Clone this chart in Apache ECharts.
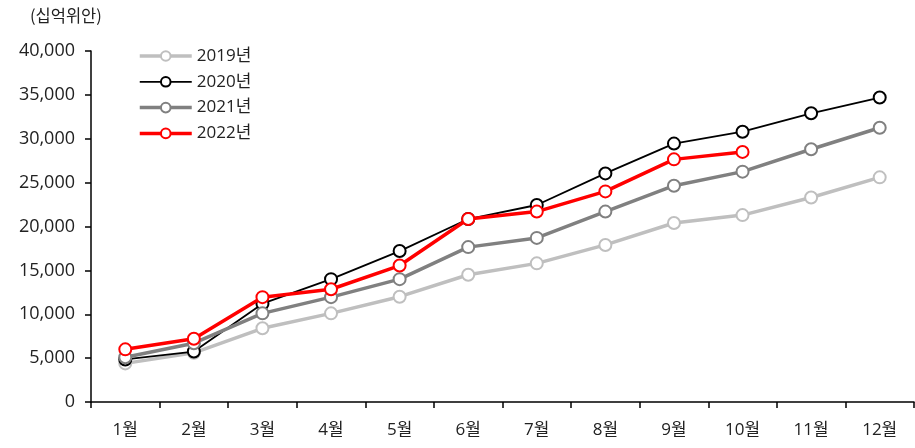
<!DOCTYPE html>
<html>
<head>
<meta charset="utf-8">
<script src="https://cdn.jsdelivr.net/npm/echarts@6/dist/echarts.min.js"></script>
<style>
  html, body { margin: 0; padding: 0; background: #fff; }
  #chart { width: 915px; height: 448px; }
</style>
</head>
<body>
<div id="chart"></div>
<script>
// Monthly cumulative values (십억위안)
const months = ['1월', '2월', '3월', '4월', '5월', '6월', '7월', '8월', '9월', '10월', '11월', '12월'];
const y2019 = [4400, 5600, 8400, 10100, 12000, 14500, 15800, 17900, 20400, 21300, 23300, 25600];
const y2020 = [4850, 5750, 11200, 14000, 17200, 20850, 22450, 26050, 29450, 30800, 32900, 34700];
const y2021 = [5100, 6700, 10100, 11950, 14000, 17650, 18700, 21700, 24650, 26250, 28800, 31250];
const y2022 = [6000, 7200, 11950, 12850, 15550, 20850, 21700, 24000, 27650, 28500];
const seriesNames = ['2019년', '2020년', '2021년', '2022년'];
const yTicks = { min: 0, max: 40000, interval: 5000 };

const FONT = '"Open Sans", "Noto Sans CJK KR", sans-serif';
const CJK = '"Noto Sans CJK KR", sans-serif';

const colors = ['#bfbfbf', '#000000', '#808080', '#ff0000'];
const widths = [3.5, 1.8, 3.5, 3.5];

function lineSeries(i, data) {
  return {
    name: seriesNames[i],
    type: 'line',
    data: data,
    z: 2 + i,
    symbol: 'circle',
    symbolSize: 12,
    lineStyle: { color: colors[i], width: widths[i] },
    itemStyle: { color: '#fff', borderColor: colors[i], borderWidth: 2 },
    emphasis: { disabled: true },
    animation: false
  };
}

const chart = echarts.init(document.getElementById('chart'), null, { renderer: 'canvas' });
chart.setOption({
  animation: false,
  textStyle: { fontFamily: FONT },
  grid: { left: 91, right: 1, top: 51, bottom: 46, containLabel: false },
  graphic: [{
    type: 'text',
    left: 30,
    top: 7,
    style: { text: '(십억위안)', font: '16.5px ' + CJK, fill: '#222' }
  }],
  legend: {
    orient: 'vertical',
    left: 138,
    top: 47.5,
    padding: 0,
    itemWidth: 52,
    itemHeight: 12,
    itemGap: 8.8,
    textStyle: { fontSize: 17, color: '#222', fontFamily: FONT },
    data: seriesNames.map((n, i) => ({
      name: n,
      lineStyle: { color: colors[i], width: widths[i] }
    }))
  },
  xAxis: {
    type: 'category',
    data: months,
    boundaryGap: true,
    axisLine: { lineStyle: { color: '#000', width: 1.5 } },
    axisTick: { show: true, alignWithLabel: false, length: 6, lineStyle: { color: '#000', width: 1.5 } },
    axisLabel: { color: '#222', fontSize: 17, margin: 20, fontFamily: FONT },
    splitLine: { show: false }
  },
  yAxis: {
    type: 'value',
    min: yTicks.min,
    max: yTicks.max,
    interval: yTicks.interval,
    axisLine: { show: true, lineStyle: { color: '#000', width: 1.5 } },
    axisTick: { show: true, length: 6, lineStyle: { color: '#000', width: 1.5 } },
    axisLabel: {
      color: '#222', fontSize: 18, margin: 16, fontFamily: FONT,
      formatter: v => v.toLocaleString('en-US')
    },
    splitLine: { show: false }
  },
  series: [
    lineSeries(0, y2019),
    lineSeries(1, y2020),
    lineSeries(2, y2021),
    lineSeries(3, y2022)
  ]
});
</script>
</body>
</html>
